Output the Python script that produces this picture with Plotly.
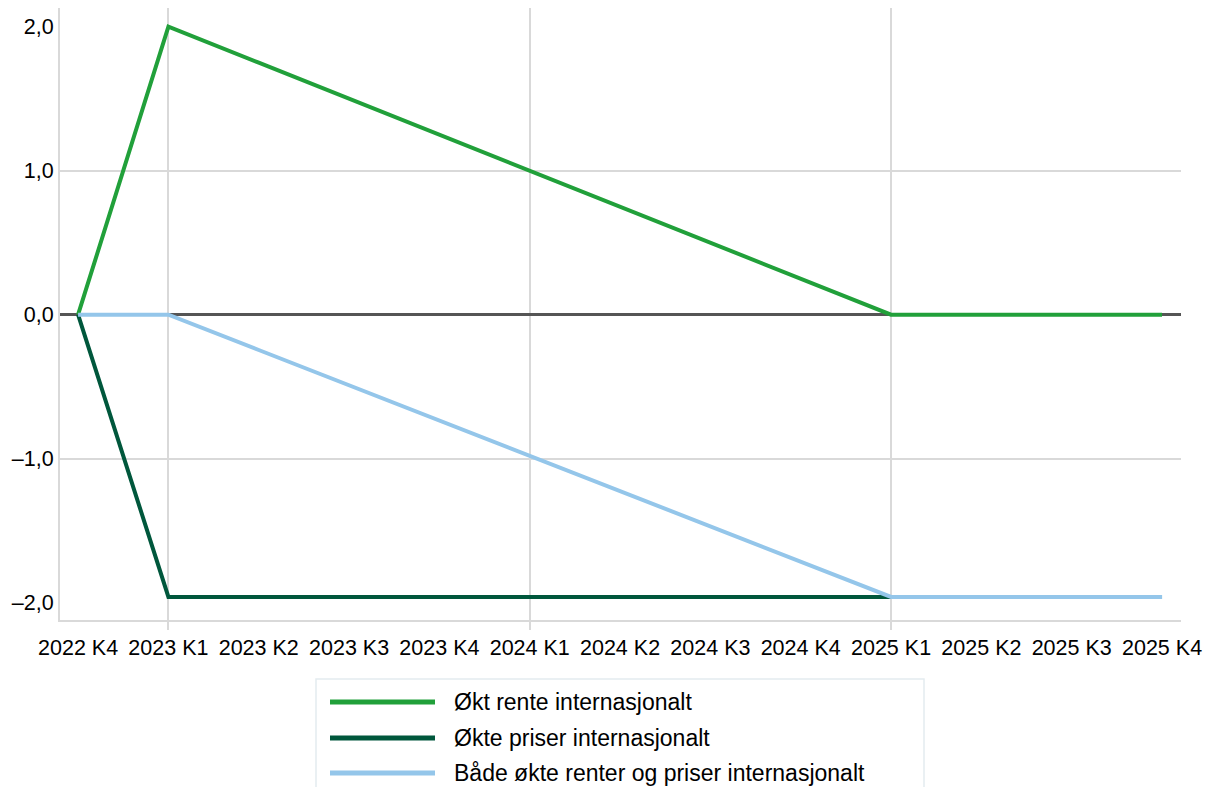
import plotly.graph_objects as go

# Quarterly horizon and the three scenario paths (percentage points)
quarters = ["2022 K4", "2023 K1", "2023 K2", "2023 K3", "2023 K4",
            "2024 K1", "2024 K2", "2024 K3", "2024 K4",
            "2025 K1", "2025 K2", "2025 K3", "2025 K4"]

rente = [0.0, 2.0, 1.75, 1.5, 1.25, 1.0, 0.75, 0.5, 0.25, 0.0, 0.0, 0.0, 0.0]
priser = [0.0, -1.96, -1.96, -1.96, -1.96, -1.96, -1.96, -1.96, -1.96,
          -1.96, -1.96, -1.96, -1.96]
begge = [0.0, 0.0, -0.245, -0.49, -0.735, -0.98, -1.225, -1.47, -1.715,
         -1.96, -1.96, -1.96, -1.96]

series_names = ["Økt rente internasjonalt",
                "Økte priser internasjonalt",
                "Både økte renter og priser internasjonalt"]
series_colors = ["#21a03a", "#00573c", "#94c6ea"]

y_ticks = [-2, -1, 0, 1, 2]
y_ticktext = ["–2,0", "–1,0", "0,0", "1,0", "2,0"]
year_starts = [1, 5, 9]

W, H = 1205, 787
M_L, M_R, M_T, M_B = 60, 24, 8, 167
PW, PH = W - M_L - M_R, H - M_T - M_B

FONT = "Liberation Sans, Arial, Helvetica, sans-serif"

x_idx = list(range(len(quarters)))

fig = go.Figure()
for vals, name, col in zip([rente, priser, begge], series_names, series_colors):
    fig.add_trace(go.Scatter(x=x_idx, y=vals, mode="lines", name=name,
                             line=dict(color=col, width=4),
                             showlegend=False))


def px_x(px):
    return (px - M_L) / PW


def px_y(py):
    return (H - M_B - py) / PH


# Legend drawn below the chart with long line samples
shapes = [dict(type="rect", xref="paper", yref="paper",
               x0=px_x(316), x1=px_x(924), y0=px_y(679), y1=px_y(800),
               line=dict(color="#e4ebf0", width=1.5), fillcolor="rgba(0,0,0,0)",
               layer="below")]
annotations = []
rows = [702, 738, 773]
for name, col, ry in zip(series_names, series_colors, rows):
    shapes.append(dict(type="line", xref="paper", yref="paper",
                       x0=px_x(330), x1=px_x(435), y0=px_y(ry), y1=px_y(ry),
                       line=dict(color=col, width=5)))
    annotations.append(dict(xref="paper", yref="paper", x=px_x(452), y=px_y(ry),
                            text=name, showarrow=False, xanchor="left",
                            yanchor="middle",
                            font=dict(family=FONT, size=23, color="#000")))

fig.update_layout(
    width=W, height=H,
    margin=dict(l=M_L, r=M_R, t=M_T, b=M_B, autoexpand=False),
    paper_bgcolor="white", plot_bgcolor="white",
    font=dict(family=FONT, size=21.5, color="#000"),
    showlegend=False,
    shapes=shapes,
    annotations=annotations,
    xaxis=dict(
        range=[-0.2, 12.21],
        tickvals=x_idx, ticktext=quarters,
        tickangle=0, automargin=False,
        showgrid=False, zeroline=False,
        showline=True, linecolor="#d9d9d9", linewidth=2,
        ticks="", ticklabelstandoff=7,
        minor=dict(tickvals=year_starts, showgrid=True, gridcolor="#d9d9d9",
                   gridwidth=2, ticks="outside", ticklen=8,
                   tickcolor="#d9d9d9", tickwidth=2),
    ),
    yaxis=dict(
        range=[-2.12, 2.13],
        tickvals=y_ticks, ticktext=y_ticktext,
        automargin=False,
        showgrid=False,
        zeroline=True, zerolinecolor="#555555", zerolinewidth=2.5,
        showline=True, linecolor="#d9d9d9", linewidth=2,
        ticks="", ticklabelstandoff=0,
        minor=dict(tickvals=[-1, 1], showgrid=True, gridcolor="#d9d9d9",
                   gridwidth=2, ticks=""),
    ),
)

fig.write_html("out.html")
